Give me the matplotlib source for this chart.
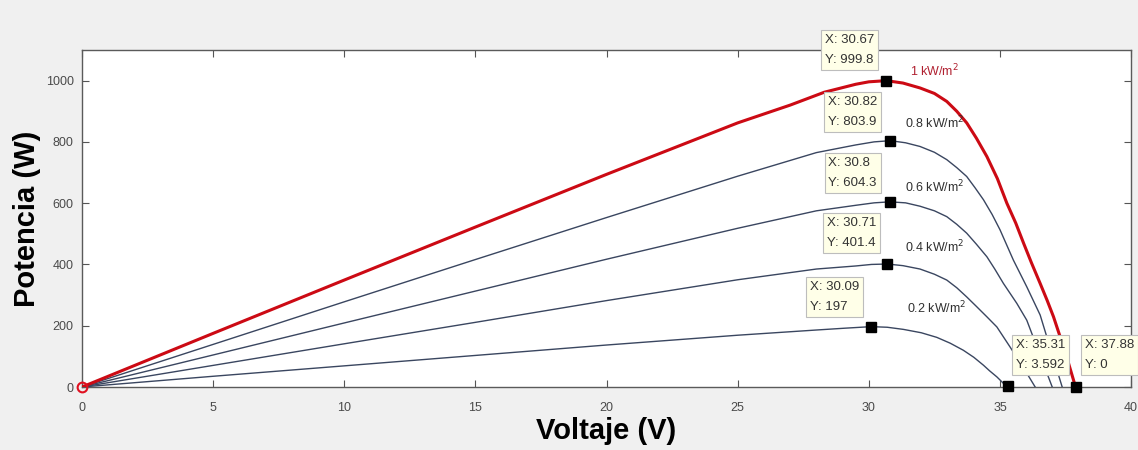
import matplotlib
matplotlib.use("Agg")
import matplotlib.pyplot as plt

# ---------------- data ----------------
v_10 = [0, 5, 10, 15, 20, 25, 27, 28.3, 29.5, 30.0, 30.67, 31.3, 31.95, 32.5, 32.97, 33.35, 33.73, 34.1,
        34.5, 34.9, 35.26, 35.6, 35.9, 36.2, 36.53, 36.8, 37.04, 37.5, 37.88]
p_10 = [0, 175, 349, 522, 694, 862, 920, 962, 988, 996, 999.8, 992, 976, 958, 932, 900, 862, 812,
        752, 680, 600, 535, 469, 405, 338, 282, 229, 110, 0]

v_08 = [0, 5, 10, 15, 20, 25, 28, 29.5, 30.2, 30.82, 31.4, 31.95, 32.5, 32.97, 33.35, 33.73, 34.05,
        34.37, 34.7, 35.0, 35.51, 36.02, 36.53, 36.95, 37.37]
p_08 = [0, 139, 278, 416, 553, 688, 765, 790, 800, 803.9, 797, 785, 766, 742, 716, 687, 650,
        611, 563, 513, 414, 327, 235, 117, 0]

v_06 = [0, 5, 10, 15, 20, 25, 28, 29.5, 30.2, 30.8, 31.4, 31.95, 32.5, 32.97, 33.35, 33.73, 34.1,
        34.5, 34.8, 35.13, 35.64, 36.02, 36.5, 36.99]
p_06 = [0, 104.5, 209, 313, 417, 518, 575, 593, 601, 604.3, 601, 590, 575, 556, 531, 502, 466,
        425, 385, 338, 273, 218, 110, 0]

v_04 = [0, 5, 10, 15, 20, 25, 28, 29.5, 30.1, 30.71, 31.3, 31.95, 32.5, 32.97, 33.35, 33.73, 34.1,
        34.5, 34.88, 35.38, 35.9, 36.34]
p_04 = [0, 70.5, 141, 211, 282, 350, 385, 395, 400, 401.4, 396, 385, 368, 349, 324, 294, 263,
        229, 196, 131, 62, 0]

v_02 = [0, 5, 10, 15, 20, 25, 28, 29.1, 30.09, 30.7, 31.32, 32.0, 32.59, 33.1, 33.6, 34.0, 34.37,
        34.6, 34.88, 35.2, 35.31]
p_02 = [0, 35, 69, 103, 137, 169, 186, 192, 197, 195, 188, 177, 162, 143, 120, 97, 71,
        53, 33, 6, 3.592]

curve_labels = ["1 kW/m$^2$", "0.8 kW/m$^2$", "0.6 kW/m$^2$", "0.4 kW/m$^2$", "0.2 kW/m$^2$"]
label_pos = [(31.57, 1030), (31.38, 862), (31.38, 653), (31.38, 457), (31.45, 257)]

tip_x = [30.67, 30.82, 30.8, 30.71, 30.09, 35.31, 37.88]
tip_y = [999.8, 803.9, 604.3, 401.4, 197, 3.592, 0]
tip_txt_x = ["30.67", "30.82", "30.8", "30.71", "30.09", "35.31", "37.88"]
tip_txt_y = ["999.8", "803.9", "604.3", "401.4", "197", "3.592", "0"]

x_ticks = [0, 5, 10, 15, 20, 25, 30, 35, 40]
y_ticks = [0, 200, 400, 600, 800, 1000]

# ---------------- figure ----------------
plt.rcParams['font.family'] = ['Liberation Sans', 'DejaVu Sans']
fig = plt.figure(figsize=(11.38, 4.5), dpi=100, facecolor='#f0f0f0')
ax = fig.add_axes([0.072, 0.14, 0.922, 0.749])
ax.set_facecolor('white')

dark = '#3a4660'
ax.plot(v_02, p_02, color=dark, lw=1.0, zorder=3)
ax.plot(v_04, p_04, color=dark, lw=1.0, zorder=3)
ax.plot(v_06, p_06, color=dark, lw=1.0, zorder=3)
ax.plot(v_08, p_08, color=dark, lw=1.0, zorder=3)
ax.plot(v_10, p_10, color='#cc0a14', lw=2.2, zorder=4)

# origin marker
ax.plot([v_10[0]], [p_10[0]], 'o', mfc='none', mec='#e01020', ms=7, mew=1.5, zorder=5, clip_on=False)

# curve labels
for i, (lab, (lx, ly)) in enumerate(zip(curve_labels, label_pos)):
    ax.text(lx, ly, lab, fontsize=9, ha='left', va='center',
            color='#b02030' if i == 0 else '#303030', zorder=6)

# datatip markers and boxes
offsets = [(-12.5, 15, 'right'), (-13, 13, 'right'), (-13, 13, 'right'), (-11, 15, 'right'),
           (-12, 14, 'right'), (8, 15, 'left'), (9, 16, 'left')]
for x, y, tx, ty, (dx, dy, ha) in zip(tip_x, tip_y, tip_txt_x, tip_txt_y, offsets):
    ax.plot([x], [y], 's', color='black', ms=6.5, zorder=8, clip_on=False)
    ax.annotate(f"X: {tx}\nY: {ty}", xy=(x, y), xytext=(dx, dy), textcoords='offset pixels',
                ha=ha, va='bottom', multialignment='left', fontsize=9.5,
                color='#333333', linespacing=1.9,
                bbox=dict(boxstyle='square,pad=0.3', fc='#ffffe8', ec='#bdbdbd', lw=0.8),
                zorder=10, annotation_clip=False)

ax.set_xlim(0, 40)
ax.set_ylim(0, 1100)
ax.set_xticks(x_ticks)
ax.set_yticks(y_ticks)
ax.tick_params(direction='in', top=True, right=True, length=5, width=0.8,
               color='#555555', labelcolor='#4a4a4a', labelsize=9)
ax.tick_params(axis='x', pad=11)
ax.tick_params(axis='y', pad=6)
for s in ax.spines.values():
    s.set_color('#5a5a5a')
    s.set_linewidth(1.0)

ax.set_xlabel("Voltaje (V)", fontsize=21, fontweight='bold', color='black', labelpad=2)
ax.set_ylabel("Potencia (W)", fontsize=21, fontweight='bold', color='black', labelpad=3)

fig.savefig("out.png", dpi=100, facecolor=fig.get_facecolor())
